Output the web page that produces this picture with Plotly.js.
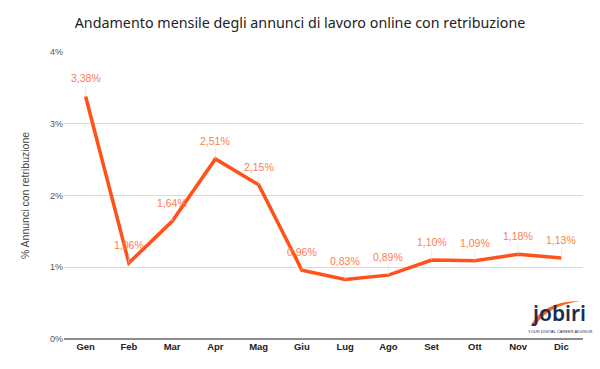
<!DOCTYPE html>
<html>
<head>
<meta charset="utf-8">
<script src="https://cdn.plot.ly/plotly-3.0.1.min.js"></script>
<style>html,body{margin:0;padding:0;background:#fff}#chart{width:600px;height:369px}</style>
</head>
<body>
<div id="chart"></div>
<script>
const months = ["Gen","Feb","Mar","Apr","Mag","Giu","Lug","Ago","Set","Ott","Nov","Dic"];
const values = [3.38, 1.06, 1.64, 2.51, 2.15, 0.96, 0.83, 0.89, 1.10, 1.09, 1.18, 1.13];
const valueLabels = ["3,38%","1,06%","1,64%","2,51%","2,15%","0,96%","0,83%","0,89%","1,10%","1,09%","1,18%","1,13%"];
const yTicks = [0, 1, 2, 3, 4];
const yTickLabels = ["0%","1%","2%","3%","4%"];

const lineColor = "#ff5119";
const labelColor = "#ff7d4d";

const annotations = months.map((m, i) => ({
  x: m, y: values[i], xref: "x", yref: "y",
  text: valueLabels[i],
  showarrow: true, arrowhead: 0, arrowwidth: 0.6, arrowcolor: "#dddddd",
  ax: 0, ay: -18, standoff: 0,
  font: {family: "Liberation Sans, Arial, sans-serif", size: 10.5, color: labelColor}
}));

// logo
annotations.push({
  xref: "paper", yref: "paper", x: (558 - 64) / 518.6, y: (339 - 313) / 287,
  text: "jobiri", showarrow: false, xanchor: "center", yanchor: "middle",
  font: {family: "Noto Sans, sans-serif", size: 21, color: "#1c2b4f", weight: 600}
});
annotations.push({
  xref: "paper", yref: "paper", x: (560 - 64) / 518.6, y: (339 - 331) / 287,
  text: "YOUR DIGITAL CAREER ADVISOR", showarrow: false, xanchor: "center", yanchor: "middle",
  font: {family: "Liberation Sans, sans-serif", size: 4, color: "#1c2b4f"}
});

function px(x){ return ((x - 64) / 518.6).toFixed(4); }
function py(y){ return ((339 - y) / 287).toFixed(4); }
const swoosh = "M " + px(530) + "," + py(326) +
  " Q " + px(543) + "," + py(301) + " " + px(580) + "," + py(301) +
  " Q " + px(548) + "," + py(306) + " " + px(536) + "," + py(324) + " Z";

const trace = {
  x: months, y: values, type: "scatter", mode: "lines",
  line: {color: lineColor, width: 3.5},
  hoverinfo: "skip"
};

const layout = {
  width: 600, height: 369,
  margin: {l: 64, r: 17, t: 52, b: 30},
  paper_bgcolor: "#ffffff", plot_bgcolor: "#ffffff",
  showlegend: false,
  title: {
    text: "Andamento mensile degli annunci di lavoro online con retribuzione",
    x: 0.5, xanchor: "center", y: 1 - 23/369, yanchor: "middle",
    font: {family: "Noto Sans, sans-serif", size: 14.3, color: "#222222"}
  },
  xaxis: {
    type: "category", range: [-0.5, 11.5],
    showgrid: false, zeroline: false, showline: false,
    ticks: "", tickfont: {family: "Liberation Sans, Arial, sans-serif", size: 9.5, color: "#222222", weight: "bold"},
    fixedrange: true
  },
  yaxis: {
    range: [0, 4], tickvals: yTicks, ticktext: yTickLabels,
    showgrid: true, gridcolor: "#dadada", gridwidth: 1,
    zeroline: true, zerolinecolor: "#8c8c8c", zerolinewidth: 1.5,
    showline: false, ticks: "",
    tickfont: {family: "Liberation Sans, Arial, sans-serif", size: 9, color: "#555555"},
    title: {text: "% Annunci con retribuzione", standoff: 18,
            font: {family: "Liberation Sans, Arial, sans-serif", size: 10.5, color: "#444444"}},
    fixedrange: true
  },
  annotations: annotations,
  shapes: [{type: "path", xref: "paper", yref: "paper", path: swoosh,
            fillcolor: "#f26522", line: {width: 0}}]
};

Plotly.newPlot("chart", [trace], layout, {displayModeBar: false, staticPlot: true});
</script>
</body>
</html>
